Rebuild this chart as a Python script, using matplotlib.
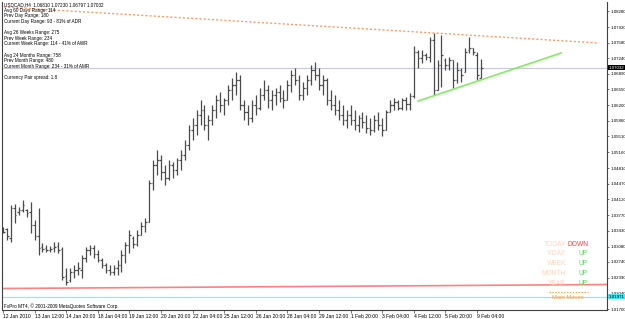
import numpy as np
import matplotlib.pyplot as plt
from matplotlib.transforms import blended_transform_factory

# USDCAD H4 bars (open, high, low, close)
opens = [1.0347, 1.0347, 1.0327, 1.0393, 1.0384, 1.0389, 1.0389, 1.0384, 1.0356, 1.0331,
         1.0307, 1.0305, 1.0300, 1.0305, 1.0309, 1.0303, 1.0243, 1.0234, 1.0252, 1.0256,
         1.0256, 1.0283, 1.0300, 1.0305, 1.0292, 1.0278, 1.0267, 1.0256, 1.0252, 1.0261,
         1.0267, 1.0289, 1.0311, 1.0327, 1.0314, 1.0333, 1.0353, 1.0362, 1.0448, 1.0488,
         1.0499, 1.0473, 1.0459, 1.0488, 1.0477, 1.0499, 1.0510, 1.0532, 1.0565, 1.0576,
         1.0598, 1.0609, 1.0576, 1.0587, 1.0609, 1.0632, 1.0621, 1.0632, 1.0654, 1.0665,
         1.0676, 1.0621, 1.0605, 1.0592, 1.0621, 1.0614, 1.0643, 1.0654, 1.0632, 1.0643,
         1.0649, 1.0636, 1.0632, 1.0665, 1.0687, 1.0676, 1.0643, 1.0658, 1.0676, 1.0698,
         1.0687, 1.0665, 1.0676, 1.0632, 1.0621, 1.0609, 1.0598, 1.0587, 1.0598, 1.0587,
         1.0576, 1.0592, 1.0583, 1.0570, 1.0565, 1.0587, 1.0576, 1.0565, 1.0605, 1.0621,
         1.0627, 1.0614, 1.0632, 1.0623, 1.0640, 1.0738, 1.0724, 1.0731, 1.0727, 1.0764,
         1.0654, 1.0709, 1.0720, 1.0709, 1.0720, 1.0676, 1.0698, 1.0693, 1.0742, 1.0746,
         1.0731, 1.06810]
highs = [1.0351, 1.0349, 1.0400, 1.0402, 1.0395, 1.0411, 1.0391, 1.0406, 1.0367, 1.0393,
         1.0316, 1.0311, 1.0309, 1.0318, 1.0318, 1.0307, 1.0261, 1.0261, 1.0267, 1.0274,
         1.0289, 1.0307, 1.0311, 1.0311, 1.0300, 1.0283, 1.0272, 1.0267, 1.0267, 1.0278,
         1.0300, 1.0318, 1.0345, 1.0331, 1.0345, 1.0362, 1.0371, 1.0455, 1.0499, 1.0521,
         1.0510, 1.0488, 1.0499, 1.0495, 1.0504, 1.0521, 1.0543, 1.0576, 1.0592, 1.0609,
         1.0632, 1.0621, 1.0598, 1.0621, 1.0643, 1.0649, 1.0636, 1.0665, 1.0680, 1.0693,
         1.0687, 1.0632, 1.0621, 1.0632, 1.0643, 1.0658, 1.0676, 1.0665, 1.0654, 1.0658,
         1.0665, 1.0654, 1.0676, 1.0698, 1.0702, 1.0687, 1.0671, 1.0687, 1.0709, 1.0715,
         1.0702, 1.0687, 1.0680, 1.0654, 1.0643, 1.0632, 1.0621, 1.0609, 1.0621, 1.0609,
         1.0598, 1.0605, 1.0598, 1.0592, 1.0598, 1.0605, 1.0592, 1.0609, 1.0632, 1.0636,
         1.0632, 1.0636, 1.0638, 1.0647, 1.0751, 1.0742, 1.0742, 1.0735, 1.0771, 1.0779,
         1.0720, 1.0775, 1.0724, 1.0727, 1.0720, 1.0715, 1.0702, 1.0746, 1.0771, 1.0746,
         1.0738, 1.07230]
lows = [1.0338, 1.0322, 1.0318, 1.0360, 1.0378, 1.0384, 1.0373, 1.0338, 1.0322, 1.0289,
        1.0296, 1.0296, 1.0296, 1.0296, 1.0294, 1.0234, 1.0223, 1.0230, 1.0239, 1.0245,
        1.0239, 1.0274, 1.0289, 1.0283, 1.0274, 1.0261, 1.0250, 1.0245, 1.0245, 1.0245,
        1.0252, 1.0272, 1.0294, 1.0305, 1.0309, 1.0333, 1.0340, 1.0362, 1.0433, 1.0466,
        1.0455, 1.0444, 1.0455, 1.0459, 1.0466, 1.0477, 1.0499, 1.0521, 1.0543, 1.0554,
        1.0576, 1.0565, 1.0543, 1.0576, 1.0592, 1.0605, 1.0598, 1.0621, 1.0632, 1.0643,
        1.0609, 1.0587, 1.0576, 1.0583, 1.0598, 1.0609, 1.0632, 1.0614, 1.0609, 1.0621,
        1.0627, 1.0614, 1.0632, 1.0649, 1.0665, 1.0632, 1.0632, 1.0643, 1.0665, 1.0676,
        1.0654, 1.0643, 1.0621, 1.0609, 1.0598, 1.0587, 1.0576, 1.0570, 1.0576, 1.0565,
        1.0561, 1.0570, 1.0559, 1.0554, 1.0561, 1.0565, 1.0552, 1.0565, 1.0605, 1.0609,
        1.0609, 1.0609, 1.0609, 1.0609, 1.0636, 1.0702, 1.0713, 1.0720, 1.0715, 1.0643,
        1.0654, 1.0660, 1.0698, 1.0698, 1.0658, 1.0669, 1.0671, 1.0693, 1.0735, 1.0731,
        1.0676, 1.06797]
closes = [1.0340, 1.0331, 1.0393, 1.0378, 1.0389, 1.0400, 1.0382, 1.0356, 1.0331, 1.0305,
          1.0303, 1.0300, 1.0303, 1.0307, 1.0300, 1.0241, 1.0230, 1.0252, 1.0256, 1.0261,
          1.0283, 1.0300, 1.0305, 1.0292, 1.0278, 1.0267, 1.0256, 1.0252, 1.0261, 1.0267,
          1.0289, 1.0311, 1.0333, 1.0314, 1.0333, 1.0353, 1.0362, 1.0448, 1.0488, 1.0499,
          1.0473, 1.0459, 1.0488, 1.0477, 1.0499, 1.0510, 1.0532, 1.0565, 1.0576, 1.0598,
          1.0609, 1.0576, 1.0587, 1.0609, 1.0632, 1.0621, 1.0632, 1.0654, 1.0665, 1.0676,
          1.0621, 1.0605, 1.0592, 1.0621, 1.0614, 1.0643, 1.0654, 1.0632, 1.0643, 1.0649,
          1.0636, 1.0632, 1.0665, 1.0687, 1.0676, 1.0643, 1.0658, 1.0676, 1.0698, 1.0687,
          1.0665, 1.0676, 1.0632, 1.0621, 1.0609, 1.0598, 1.0587, 1.0598, 1.0587, 1.0576,
          1.0592, 1.0583, 1.0570, 1.0565, 1.0587, 1.0576, 1.0565, 1.0605, 1.0621, 1.0627,
          1.0614, 1.0632, 1.0623, 1.0640, 1.0738, 1.0724, 1.0731, 1.0727, 1.0764, 1.0654,
          1.0709, 1.0731, 1.0709, 1.0720, 1.0676, 1.0698, 1.0687, 1.0738, 1.0746, 1.0738,
          1.0687, 1.07032]

# time axis labels, one every 8 bars
time_labels = ["12 Jan 2010", "13 Jan 12:00", "14 Jan 20:00", "18 Jan 04:00", "19 Jan 12:00",
               "20 Jan 20:00", "22 Jan 04:00", "25 Jan 12:00", "26 Jan 20:00", "28 Jan 04:00",
               "29 Jan 12:00", "1 Feb 20:00", "3 Feb 04:00", "4 Feb 12:00", "5 Feb 20:00",
               "9 Feb 04:00"]
price_ticks = [1.08280, 1.07920, 1.07580, 1.07240, 1.06890, 1.06550, 1.06200, 1.05860,
               1.05510, 1.05160, 1.04810, 1.04470, 1.04120, 1.03770, 1.03430, 1.03080,
               1.02740, 1.02390, 1.02040, 1.01700]

# objects drawn on the chart (bar index, price)
resist_line = ([0.25, 150.9], [1.08368, 1.07574])
support_line = ([105.1, 141.3], [1.06293, 1.07353])
year_line = ([0.25, 153.0], [1.02153, 1.02241])
bid_price = 1.07032
main_level = 1.01971

info_lines = ["USDCAD,H4  1.06810 1.07230 1.06797 1.07032",
              "Avg 60 Days Range: 114",
              "Prev Day Range: 180",
              "Current Day Range: 93 - 81% of ADR",
              "",
              "Avg 26 Weeks Range: 275",
              "Prev Week Range: 234",
              "Current Week Range: 114 - 41% of AWR",
              "",
              "Avg 24 Months Range: 758",
              "Prev Month Range: 480",
              "Current Month Range: 234 - 31% of AMR",
              "",
              "Currency Pair spread: 1.8"]
trend_names = ["TODAY", "Y-DAY", "WEEK", "MONTH", "YEAR"]
trend_values = ["DOWN", "UP", "UP", "UP", "UP"]

plt.rcParams['font.family'] = ['Liberation Sans', 'DejaVu Sans']

W, H = 625, 319
fig = plt.figure(figsize=(W / 100, H / 100), dpi=100)
ax = fig.add_axes([2 / W, 1 - 310 / H, 605 / W, 308 / H])
ax.set_xlim(-0.25, 152.9)
ax.set_ylim(1.01678, 1.08479)

# bars
n = len(opens)
idx = np.arange(n)
bar_col = '#4a4a4a'
ax.vlines(idx, lows, highs, color=bar_col, lw=0.9)
ax.hlines(opens, idx - 0.4, idx, color=bar_col, lw=0.9)
ax.hlines(closes, idx, idx + 0.4, color=bar_col, lw=0.9)

# lines
ax.axhline(bid_price, color='#c8c8d8', lw=0.8, zorder=0)
ax.axhline(main_level, color='#80f0f0', lw=0.9, zorder=0)
ax.plot(*resist_line, color='#ff9966', lw=1.0, ls=(0, (1.5, 1.5)))
ax.plot(*support_line, color='#80ee60', lw=1.2)
ax.plot(*year_line, color='#ff8080', lw=1.2)

# axes styling
ax.spines['top'].set_visible(False)
for s in ['left', 'right', 'bottom']:
    ax.spines[s].set_color('#404040')
    ax.spines[s].set_linewidth(0.8)

ax.set_xticks(idx[::8][:len(time_labels)])
ax.set_xticklabels(time_labels, ha='left', fontsize=3.6)
ax.tick_params(axis='x', length=2, width=0.5, pad=1, color='#404040')
ax.yaxis.tick_right()
ax.set_yticks(price_ticks)
ax.set_yticklabels([f"{v:.5f}" for v in price_ticks], fontsize=3.2)
ax.tick_params(axis='y', length=1.5, width=0.5, pad=0.8, color='#404040')

tr = blended_transform_factory(ax.transAxes, ax.transData)
ax.text(1.003, bid_price, f"{bid_price:.5f}", transform=tr, fontsize=3.2, color='white',
        va='center', ha='left', bbox=dict(fc='black', ec='none', pad=0.5), clip_on=False)
ax.text(1.003, main_level, f"{main_level:.5f}", transform=tr, fontsize=3.2, color='black',
        va='center', ha='left', bbox=dict(fc='#40e8f0', ec='none', pad=0.5), clip_on=False)

# info block top-left
for k, line in enumerate(info_lines):
    fig.text(4 / W, 1 - (4.8 + 5.6 * k) / H, line, fontsize=3.35, va='center', ha='left')

# trend box bottom-right
for k, (nm, val) in enumerate(zip(trend_names, trend_values)):
    y = 1 - (244 + 9.8 * k) / H
    fig.text(566 / W, y, nm, fontsize=4.8, color='#ffd4bc', ha='right', va='center')
    fig.text(588 / W, y, val, fontsize=4.8, color='#ff4040' if val == 'DOWN' else '#50e050',
             ha='right', va='center')
fig.add_artist(plt.Line2D([549 / W, 588 / W], [1 - 292 / H] * 2, color='#ffa040', lw=0.7,
                          ls=(0, (1.5, 1.5))))
fig.text(568 / W, 1 - 297.5 / H, "Main Moves", fontsize=4.2, color='#ffa040',
         ha='center', va='center')

fig.text(4 / W, 1 - 306 / H, "FxPro MT4, \u00a9 2001-2009 MetaQuotes Software Corp.",
         fontsize=3.4, va='center', ha='left')

fig.savefig("out.png", dpi=100)
